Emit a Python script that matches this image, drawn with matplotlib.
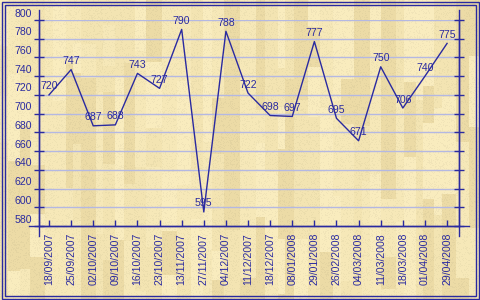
import numpy as np
import matplotlib
matplotlib.use("Agg")
import matplotlib.pyplot as plt
from matplotlib.patches import Rectangle

# data
dates = ["18/09/2007", "25/09/2007", "02/10/2007", "09/10/2007", "16/10/2007",
         "23/10/2007", "13/11/2007", "27/11/2007", "04/12/2007", "11/12/2007",
         "18/12/2007", "08/01/2008", "29/01/2008", "26/02/2008", "04/03/2008",
         "11/03/2008", "18/03/2008", "01/04/2008", "29/04/2008"]
values = [720, 747, 687, 688, 743, 727, 790, 595, 788, 722,
          698, 697, 777, 695, 671, 750, 706, 740, 775]
yticks = [580, 600, 620, 640, 660, 680, 700, 720, 740, 760, 780, 800]

plt.rcParams["font.family"] = ["Liberation Sans", "DejaVu Sans"]

blue = "#2a2aa0"
grid_col = "#b4b8e2"
fs = 7.6

W, H = 480, 300

# wood-ish background texture (deterministic)
def hsh(n):
    return (np.sin(n * 12.9898 + 78.233) * 43758.5453) % 1.0

shades = np.array([[249, 236, 190], [243, 228, 178], [236, 219, 166], [246, 232, 184]]) / 255.0
img = np.zeros((H, W, 3))
x0 = 0
col = 0
while x0 < W:
    w = 7 + int(hsh(col * 3.1) * 10)
    y0 = 0
    seg = 0
    while y0 < H:
        hgt = 25 + int(hsh(col * 7.3 + seg * 1.7) * 120)
        s = shades[int(hsh(col * 5.7 + seg * 2.9) * 4) % 4]
        img[y0:y0 + hgt, x0:x0 + w] = s
        y0 += hgt
        seg += 1
    x0 += w
    col += 1
yy, xx = np.mgrid[0:H, 0:W]
speck = hsh(xx * 0.731 + yy * 1.913)
img[speck > 0.8] *= 0.97
img = np.clip(img, 0, 1)

fig = plt.figure(figsize=(W / 100, H / 100), dpi=100)
bg = fig.add_axes([0, 0, 1, 1], zorder=-1)
bg.imshow(img, aspect="auto", interpolation="nearest")
bg.axis("off")

# double frame
for inset in (1.5, 4.5):
    fig.patches.append(Rectangle((inset / W, inset / H), 1 - 2 * inset / W, 1 - 2 * inset / H,
                                 transform=fig.transFigure, fill=False, ec=blue, lw=1.0))

ax = fig.add_axes([39 / W, 74 / H, 420 / W, 206 / H])
ax.set_facecolor("none")
x = np.arange(len(values))
ax.set_xlim(-0.452, 18.54)
ax.set_ylim(580, 800)

for v in yticks[1:]:
    ax.axhline(v, color=grid_col, lw=1.0, zorder=1)

ax.plot(x, values, color=blue, lw=1.0, zorder=3)
for xi, v in zip(x, values):
    ax.annotate(str(v), (xi, v), xytext=(0, 2.5), textcoords="offset points",
                ha="center", va="bottom", fontsize=fs, color=blue, zorder=4,
                annotation_clip=False)

ax.spines["top"].set_visible(False)
for s in ("left", "bottom", "right"):
    ax.spines[s].set_color(blue)
    ax.spines[s].set_linewidth(1.0)

# axis lines run a little past the plot area
ex = 10 / 420
ey = 10 / 206
kw = dict(transform=ax.transAxes, clip_on=False, color=blue, lw=1.0)
ax.plot([-ex, 1 + ex], [0, 0], **kw)
ax.plot([0, 0], [-ey, 1 + ey], **kw)
ax.plot([1, 1], [-ey, 1 + ey], **kw)

ax.set_yticks(yticks)
ax.set_yticklabels([])
ax.tick_params(axis="y", which="both", direction="inout", length=7, width=1,
               color=blue, left=True, right=True)
for v in yticks:
    ax.annotate(str(v), (-0.452, v), xytext=(-5, 2.5), textcoords="offset points",
                ha="right", va="baseline", fontsize=fs, color=blue,
                annotation_clip=False)

ax.set_xticks(x)
ax.set_xticklabels(dates, rotation=90, fontsize=fs, color=blue)
ax.tick_params(axis="x", direction="in", length=4, width=1, color=blue, pad=5)

fig.savefig("out.png", dpi=100)
